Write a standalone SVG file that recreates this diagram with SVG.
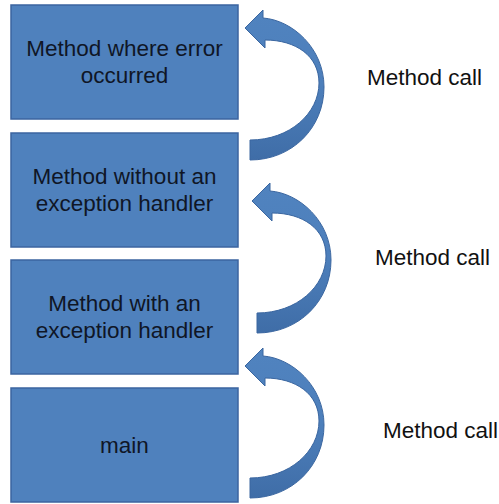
<svg xmlns="http://www.w3.org/2000/svg" xmlns:xlink="http://www.w3.org/1999/xlink" width="499" height="504" viewBox="0 0 499 504">
  <style>
    .box { fill: #4F81BD; stroke: #3B64A0; stroke-width: 1.5; }
    .boxtext { font-family: "Liberation Sans", Arial, sans-serif; font-size: 22.5px; fill: #0f1626; text-anchor: middle; }
    .label { font-family: "Liberation Sans", Arial, sans-serif; font-size: 22.5px; fill: #111111; }
    .arrow { fill: url(#arrowShade); stroke: #3A66A0; stroke-width: 1; stroke-linejoin: round; }
  </style>
  <defs>
    <linearGradient id="arrowShade" x1="0" y1="0" x2="0" y2="1">
      <stop offset="0" stop-color="#5083BF"/>
      <stop offset="0.5" stop-color="#4D7FBB"/>
      <stop offset="1" stop-color="#3F6DA7"/>
    </linearGradient>
    <!-- curved call arrow: tail at bottom-left, sweeps right, head points back left -->
    <path id="callArrow" d="M 245 28 L 263 10 L 263 18 C 292 20 324 48 324 87 C 324 128 292 160 250 160 L 250 140 C 290 140 319 113 319 83 C 319 56 296 40 265 40 L 265 48 Z"/>
  </defs>

  <rect width="499" height="504" fill="#ffffff"/>

  <g id="node-error">
    <rect class="box" x="11" y="5" width="227" height="114"/>
    <text class="boxtext" x="124.5" y="56">Method where error</text>
    <text class="boxtext" x="124.5" y="83">occurred</text>
  </g>

  <g id="node-no-handler">
    <rect class="box" x="11" y="133" width="227" height="114"/>
    <text class="boxtext" x="124.5" y="184">Method without an</text>
    <text class="boxtext" x="124.5" y="211">exception handler</text>
  </g>

  <g id="node-handler">
    <rect class="box" x="11" y="260" width="227" height="114"/>
    <text class="boxtext" x="124.5" y="311">Method with an</text>
    <text class="boxtext" x="124.5" y="338">exception handler</text>
  </g>

  <g id="node-main">
    <rect class="box" x="11" y="388" width="227" height="114"/>
    <text class="boxtext" x="124.5" y="453">main</text>
  </g>

  <g id="connectors">
    <use xlink:href="#callArrow" class="arrow"/>
    <use xlink:href="#callArrow" class="arrow" transform="translate(7 173)"/>
    <use xlink:href="#callArrow" class="arrow" transform="translate(0 338)"/>
  </g>

  <g id="labels">
    <text class="label" x="367" y="85">Method call</text>
    <text class="label" x="375" y="265">Method call</text>
    <text class="label" x="383" y="438">Method call</text>
  </g>
</svg>
